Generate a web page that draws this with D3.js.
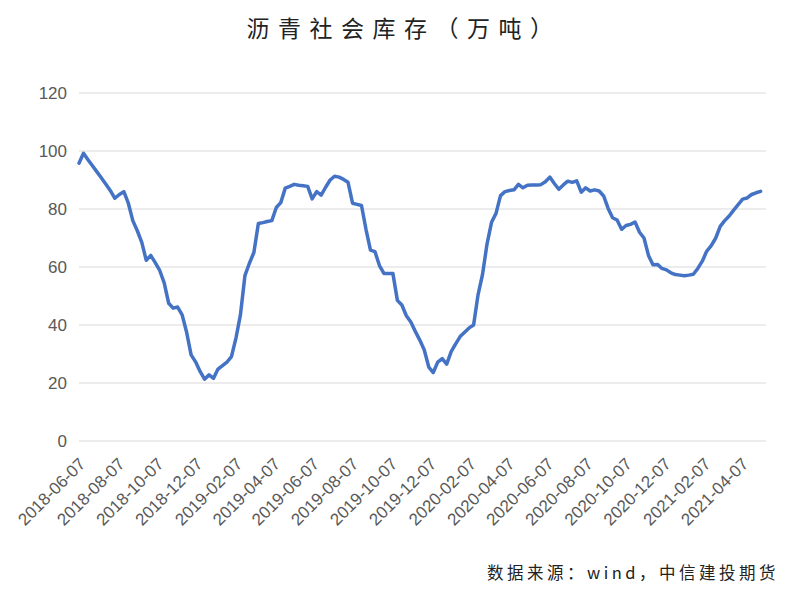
<!DOCTYPE html>
<html>
<head>
<meta charset="utf-8">
<script src="https://cdn.jsdelivr.net/npm/d3@7"></script>
<style>
  html, body { margin: 0; padding: 0; background: #fff; }
  svg { display: block; }
</style>
</head>
<body>
<svg id="chart" width="800" height="595"></svg>
<script>
const titleText = "沥青社会库存（万吨）";
const sourceText = "数据来源：wind，中信建投期货";
const startDate = "2018-06-07";
const yTicks = [0, 20, 40, 60, 80, 100, 120];
const xTickLabels = ["2018-06-07","2018-08-07","2018-10-07","2018-12-07","2019-02-07","2019-04-07",
  "2019-06-07","2019-08-07","2019-10-07","2019-12-07","2020-02-07","2020-04-07","2020-06-07",
  "2020-08-07","2020-10-07","2020-12-07","2021-02-07","2021-04-07"];
// weekly inventory values (万吨)
const inventory = [
  95.8, 99.2, 97.0, 94.9, 92.8, 90.7, 88.5, 86.3, 83.7, 85.0,
  86.0, 82.0, 76.0, 72.5, 68.5, 62.3, 64.0, 61.5, 58.8, 54.5,
  47.5, 45.8, 46.2, 43.5, 37.5, 29.7, 27.3, 24.0, 21.3, 22.8,
  21.6, 24.8, 26.0, 27.2, 29.1, 35.5, 43.5, 57.0, 61.3, 65.0,
  75.0, 75.3, 75.7, 76.0, 80.5, 82.2, 87.2, 87.8, 88.5, 88.2,
  88.0, 87.8, 83.5, 86.0, 84.8, 87.5, 90.0, 91.3, 91.0, 90.2,
  89.2, 82.0, 81.6, 81.2, 73.0, 65.8, 65.3, 60.5, 57.8, 57.8,
  57.8, 48.5, 46.9, 43.2, 41.0, 37.8, 34.8, 31.4, 25.5, 23.6,
  27.2, 28.4, 26.5, 30.8, 33.5, 36.0, 37.5, 39.0, 40.0, 50.5,
  57.5, 68.0, 75.4, 78.5, 84.6, 86.0, 86.4, 86.6, 88.5, 87.3,
  88.2, 88.3, 88.3, 88.4, 89.4, 91.0, 88.8, 86.8, 88.3, 89.6,
  89.2, 89.7, 85.8, 87.3, 86.2, 86.6, 86.2, 84.5, 80.2, 77.0,
  76.2, 73.0, 74.3, 74.7, 75.5, 72.0, 70.0, 64.0, 60.8, 60.9,
  59.5, 59.0, 58.0, 57.4, 57.2, 57.0, 57.2, 57.5, 59.5, 62.0,
  65.5, 67.4, 70.0, 74.0, 76.0, 77.6, 79.6, 81.5, 83.4, 83.8,
  85.0, 85.6, 86.1
];

const parse = d3.timeParse("%Y-%m-%d");
const t0 = parse(startDate);
const data = inventory.map((v, i) => ({ date: d3.timeDay.offset(t0, 7 * i), value: v }));

const svg = d3.select("#chart");
const margin = { left: 79, right: 34, top: 93, bottom: 154 };
const W = 800, H = 595;

const tickDates = xTickLabels.map(parse);
const x = d3.scaleTime()
  .domain([tickDates[0], tickDates[tickDates.length - 1]])
  .range([margin.left, 742]);
const y = d3.scaleLinear().domain([0, 120]).range([H - margin.bottom, margin.top]);

const plotRight = 766;

// gridlines
svg.append("g")
  .selectAll("line")
  .data(yTicks)
  .join("line")
  .attr("x1", margin.left)
  .attr("x2", plotRight)
  .attr("y1", d => y(d))
  .attr("y2", d => y(d))
  .attr("stroke", "#d9d9d9")
  .attr("stroke-width", 1);

// y axis labels
const yAxis = d3.axisLeft(y).tickValues(yTicks).tickSize(0).tickPadding(12);
const yg = svg.append("g").attr("transform", `translate(${margin.left},0)`).call(yAxis);
yg.select(".domain").remove();
yg.selectAll("text")
  .attr("fill", "#595959")
  .style("font-family", "'Liberation Sans', Arial, sans-serif")
  .style("font-size", "17px");

// x axis labels
const xAxis = d3.axisBottom(x).tickValues(tickDates).tickSize(0).tickFormat(d3.timeFormat("%Y-%m-%d"));
const xg = svg.append("g").attr("transform", `translate(0,${y(0)})`).call(xAxis);
xg.select(".domain").remove();
xg.selectAll("text")
  .attr("fill", "#595959")
  .style("font-family", "'Liberation Sans', Arial, sans-serif")
  .style("font-size", "17px")
  .attr("text-anchor", "end")
  .attr("dy", null)
  .attr("y", 0)
  .attr("transform", "translate(7,24) rotate(-45)");

// line
const line = d3.line()
  .x(d => x(d.date))
  .y(d => y(d.value))
  .curve(d3.curveLinear);

svg.append("path")
  .datum(data)
  .attr("d", line)
  .attr("fill", "none")
  .attr("stroke", "#4472C4")
  .attr("stroke-width", 3.5)
  .attr("stroke-linejoin", "round")
  .attr("stroke-linecap", "round");

// title
svg.append("text")
  .attr("x", 404)
  .attr("y", 37)
  .attr("text-anchor", "middle")
  .attr("fill", "#222")
  .style("font-family", "'Noto Sans CJK SC', sans-serif")
  .style("font-size", "23px")
  .style("letter-spacing", "8.5px")
  .text(titleText);

// source
svg.append("text")
  .attr("x", 779)
  .attr("y", 579)
  .attr("text-anchor", "end")
  .attr("fill", "#222")
  .style("font-family", "'Noto Sans CJK SC', sans-serif")
  .style("font-size", "16.5px")
  .style("letter-spacing", "3.5px")
  .text(sourceText);
</script>
</body>
</html>
